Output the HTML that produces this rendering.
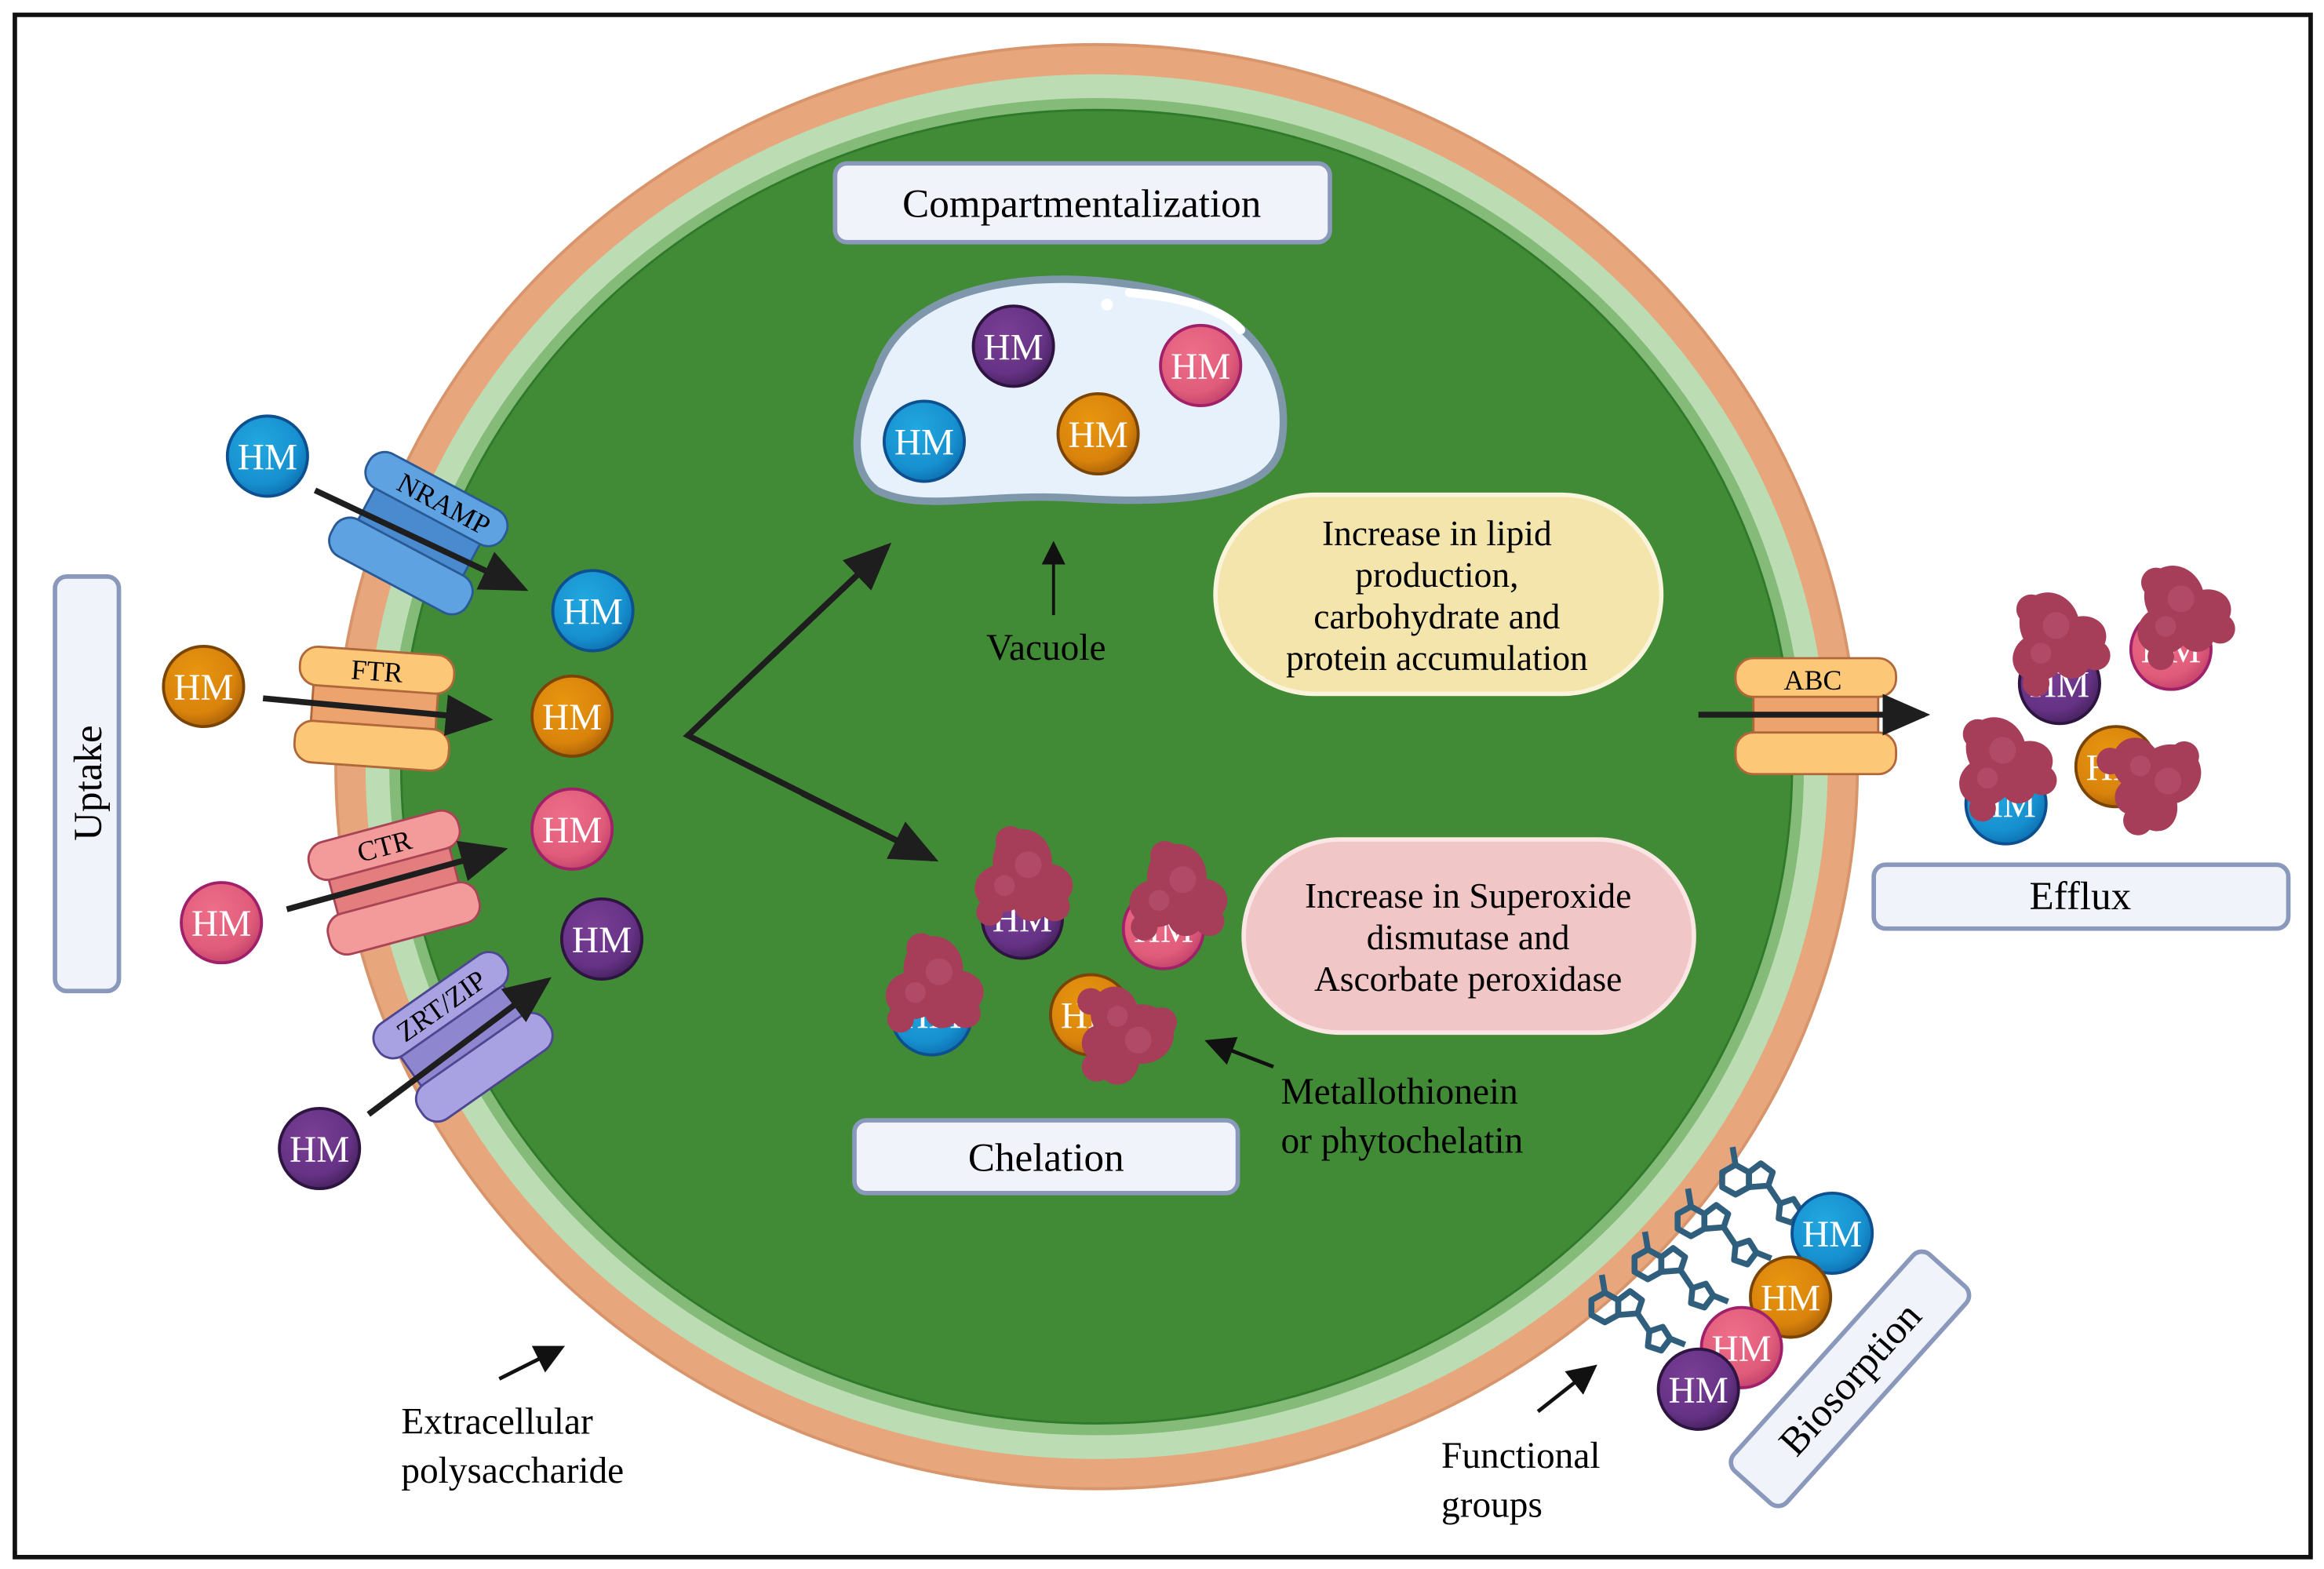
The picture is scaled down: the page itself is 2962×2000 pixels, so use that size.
<!DOCTYPE html>
<html><head><meta charset="utf-8"><style>
html,body{margin:0;padding:0;background:#fff;}
svg{display:block;}
text{font-family:"Liberation Serif",serif;}
</style></head><body>
<svg width="2962" height="2000" viewBox="0 0 1564 1056" preserveAspectRatio="none" xmlns="http://www.w3.org/2000/svg">
<defs>
<radialGradient id="gb" cx="0.4" cy="0.35" r="0.7"><stop offset="0" stop-color="#22a8e0"/><stop offset="0.7" stop-color="#1790cf"/><stop offset="1" stop-color="#0c6eb0"/></radialGradient>
<radialGradient id="go" cx="0.4" cy="0.35" r="0.7"><stop offset="0" stop-color="#e8960f"/><stop offset="0.7" stop-color="#d9830c"/><stop offset="1" stop-color="#a85f08"/></radialGradient>
<radialGradient id="gp" cx="0.4" cy="0.35" r="0.7"><stop offset="0" stop-color="#ee6f8a"/><stop offset="0.7" stop-color="#e05c7a"/><stop offset="1" stop-color="#c0406a"/></radialGradient>
<radialGradient id="gv" cx="0.4" cy="0.35" r="0.7"><stop offset="0" stop-color="#7a3f95"/><stop offset="0.7" stop-color="#653285"/><stop offset="1" stop-color="#43205a"/></radialGradient>
<g id="hmb"><circle r="27" fill="url(#gb)" stroke="#0d4f8f" stroke-width="2"/><text y="9" text-anchor="middle" font-size="25" fill="#fff">HM</text></g>
<g id="hmo"><circle r="27" fill="url(#go)" stroke="#7a4405" stroke-width="2"/><text y="9" text-anchor="middle" font-size="25" fill="#fff">HM</text></g>
<g id="hmp"><circle r="27" fill="url(#gp)" stroke="#a0206a" stroke-width="2"/><text y="9" text-anchor="middle" font-size="25" fill="#fff">HM</text></g>
<g id="hmv"><circle r="27" fill="url(#gv)" stroke="#2e1440" stroke-width="2"/><text y="9" text-anchor="middle" font-size="25" fill="#fff">HM</text></g>
<g id="blob" fill="#a63e5a">
<ellipse cx="0" cy="-8" rx="20" ry="22"/><ellipse cx="-14" cy="10" rx="18" ry="16"/><ellipse cx="16" cy="8" rx="18" ry="15"/><circle cx="22" cy="22" r="10"/><circle cx="-22" cy="26" r="9"/><circle cx="6" cy="20" r="12"/><circle cx="-8" cy="-22" r="10"/>
<circle cx="4" cy="-6" r="9" fill="#b04a66"/><circle cx="-12" cy="8" r="7" fill="#b04a66"/>
</g>
<g id="fg" fill="none" stroke="#2f5f7d" stroke-width="4" stroke-linejoin="round">
<polygon points="0,-10 9,-5 9,5 0,10 -9,5 -9,-5"/>
<polygon points="9,-5 17,-11 25,-5 22,4 9,5"/>
<line x1="0" y1="-10" x2="-2" y2="-22"/>
<line x1="22" y1="4" x2="30" y2="16"/>
<polygon points="30,16 39,13 44,21 38,29 29,26"/>
<line x1="44" y1="21" x2="54" y2="25"/>
</g>
<marker id="ah" markerWidth="10" markerHeight="10" refX="7" refY="5" orient="auto" markerUnits="strokeWidth"><path d="M0,1.5 L8,5 L0,8.5 Z" fill="#1e1e1e"/></marker>
<marker id="ah2" markerWidth="10" markerHeight="10" refX="7" refY="5" orient="auto" markerUnits="strokeWidth"><path d="M0,1 L8,5 L0,9 Z" fill="#111"/></marker>
</defs>
<rect width="1564" height="1056" fill="#fff"/>
<rect x="10" y="10" width="1545" height="1038" fill="none" stroke="#111" stroke-width="3"/>

<ellipse cx="738" cy="516" rx="512" ry="486" fill="#e8a67c" stroke="#d8946a" stroke-width="2"/>
<ellipse cx="738" cy="516" rx="492" ry="466" fill="#bcdcb4"/>
<ellipse cx="738" cy="516" rx="476" ry="450" fill="#84bb78"/>
<ellipse cx="738" cy="516" rx="468" ry="442" fill="#428b36" stroke="#2f7a2a" stroke-width="1.5"/>

<rect x="562" y="110" width="333" height="53" rx="8" fill="#f0f3fa" stroke="#8a98bb" stroke-width="3"/>
<text x="728" y="146" text-anchor="middle" font-size="27">Compartmentalization</text>
<rect x="575" y="754" width="258" height="49" rx="8" fill="#f0f3fa" stroke="#8a98bb" stroke-width="3"/>
<text x="704" y="788" text-anchor="middle" font-size="27">Chelation</text>
<rect x="1261" y="582" width="279" height="43" rx="8" fill="#f0f3fa" stroke="#8a98bb" stroke-width="3"/>
<text x="1400" y="612" text-anchor="middle" font-size="27">Efflux</text>
<rect x="37" y="388" width="43" height="279" rx="8" fill="#f0f3fa" stroke="#8a98bb" stroke-width="3"/>
<text transform="translate(68,527) rotate(-90)" text-anchor="middle" font-size="27">Uptake</text>
<g transform="translate(1245,928) rotate(-48)">
<rect x="-98" y="-24" width="196" height="48" rx="8" fill="#f0f3fa" stroke="#8a98bb" stroke-width="3"/>
<text x="0" y="9" text-anchor="middle" font-size="27">Biosorption</text>
</g>

<path d="M590,250 C610,190 700,178 780,195 C850,210 870,260 862,300 C855,335 790,340 720,335 C660,332 620,345 590,330 C570,315 575,280 590,250 Z" fill="#e7f1fb" stroke="#7f97ab" stroke-width="5"/>
<path d="M760,197 C800,200 825,210 835,222" fill="none" stroke="#fff" stroke-width="6" stroke-linecap="round"/>
<circle cx="745" cy="205" r="4" fill="#fff"/>
<use href="#hmv" x="682" y="233"/>
<use href="#hmp" x="808" y="246"/>
<use href="#hmb" x="622" y="297"/>
<use href="#hmo" x="739" y="292"/>
<line x1="709" y1="414" x2="709" y2="366" stroke="#111" stroke-width="2" marker-end="url(#ah2)"/>
<text x="704" y="444" text-anchor="middle" font-size="25">Vacuole</text>

<rect x="818" y="333" width="300" height="134" rx="67" fill="#f3e5ab" stroke="#faf4dc" stroke-width="3"/>
<text text-anchor="middle" font-size="24"><tspan x="967" y="367">Increase in lipid</tspan><tspan x="967" y="395">production,</tspan><tspan x="967" y="423">carbohydrate and</tspan><tspan x="967" y="451">protein accumulation</tspan></text>
<rect x="837" y="565" width="303" height="130" rx="65" fill="#f1c6c6" stroke="#fbe6e6" stroke-width="3"/>
<text text-anchor="middle" font-size="24"><tspan x="988" y="611">Increase in Superoxide</tspan><tspan x="988" y="639">dismutase and</tspan><tspan x="988" y="667">Ascorbate peroxidase</tspan></text>

<polyline points="597,368 463,495 628,578" fill="none" stroke="#1e1e1e" stroke-width="4"/>
<line x1="520" y1="441" x2="597" y2="368" stroke="#1e1e1e" stroke-width="4" marker-end="url(#ah)"/>
<line x1="540" y1="534" x2="628" y2="578" stroke="#1e1e1e" stroke-width="4" marker-end="url(#ah)"/>

<g transform="translate(282,358) rotate(28)">
<rect x="-40" y="-14" width="80" height="28" fill="#4a8bd0" stroke="#2a5a95" stroke-width="1.5"/>
<rect x="-52" y="-38" width="104" height="26" rx="12" fill="#5fa2e2" stroke="#2a5a95" stroke-width="1.5"/>
<rect x="-52" y="12" width="104" height="28" rx="12" fill="#5fa2e2" stroke="#2a5a95" stroke-width="1.5"/>
<text x="6" y="-18" text-anchor="middle" font-size="19">NRAMP</text>
</g>
<g transform="translate(252,476) rotate(4)">
<rect x="-42" y="-14" width="84" height="28" fill="#eda36e" stroke="#b0683a" stroke-width="1.5"/>
<rect x="-52" y="-38" width="104" height="26" rx="12" fill="#fcc878" stroke="#b0683a" stroke-width="1.5"/>
<rect x="-52" y="12" width="104" height="28" rx="12" fill="#fcc878" stroke="#b0683a" stroke-width="1.5"/>
<text x="0" y="-18" text-anchor="middle" font-size="19">FTR</text>
</g>
<g transform="translate(265,593) rotate(-15)">
<rect x="-42" y="-14" width="84" height="28" fill="#e47d7e" stroke="#a84455" stroke-width="1.5"/>
<rect x="-52" y="-38" width="104" height="26" rx="12" fill="#f39a9a" stroke="#a84455" stroke-width="1.5"/>
<rect x="-52" y="12" width="104" height="28" rx="12" fill="#f39a9a" stroke="#a84455" stroke-width="1.5"/>
<text x="0" y="-18" text-anchor="middle" font-size="19">CTR</text>
</g>
<g transform="translate(311,697) rotate(-35)">
<rect x="-42" y="-14" width="84" height="28" fill="#8e86cf" stroke="#4d4690" stroke-width="1.5"/>
<rect x="-52" y="-38" width="104" height="26" rx="12" fill="#a9a2e2" stroke="#4d4690" stroke-width="1.5"/>
<rect x="-52" y="12" width="104" height="28" rx="12" fill="#a9a2e2" stroke="#4d4690" stroke-width="1.5"/>
<text x="0" y="-18" text-anchor="middle" font-size="19">ZRT/ZIP</text>
</g>
<g transform="translate(1222,481)">
<rect x="-42" y="-14" width="84" height="28" fill="#eda36e" stroke="#b0683a" stroke-width="1.5"/>
<rect x="-54" y="-38" width="108" height="26" rx="12" fill="#fcc878" stroke="#b0683a" stroke-width="1.5"/>
<rect x="-54" y="12" width="108" height="28" rx="12" fill="#fcc878" stroke="#b0683a" stroke-width="1.5"/>
<text x="-2" y="-17" text-anchor="middle" font-size="19">ABC</text>
</g>

<use href="#hmb" x="180" y="307"/>
<use href="#hmb" x="399" y="411"/>
<use href="#hmo" x="137" y="462"/>
<use href="#hmo" x="385" y="482"/>
<use href="#hmp" x="385" y="558"/>
<use href="#hmp" x="149" y="621"/>
<use href="#hmv" x="405" y="632"/>
<use href="#hmv" x="215" y="773"/>
<line x1="212" y1="330" x2="352" y2="396" stroke="#1e1e1e" stroke-width="4" marker-end="url(#ah)"/>
<line x1="177" y1="470" x2="328" y2="484" stroke="#1e1e1e" stroke-width="4" marker-end="url(#ah)"/>
<line x1="193" y1="612" x2="338" y2="572" stroke="#1e1e1e" stroke-width="4" marker-end="url(#ah)"/>
<line x1="248" y1="750" x2="368" y2="660" stroke="#1e1e1e" stroke-width="4" marker-end="url(#ah)"/>
<line x1="1143" y1="481" x2="1295" y2="481" stroke="#1e1e1e" stroke-width="4" marker-end="url(#ah)"/>

<use href="#hmv" x="688" y="618"/><use href="#blob" x="688" y="588"/>
<use href="#hmp" x="783" y="625"/><use href="#blob" x="792" y="598"/>
<use href="#hmb" x="627" y="683"/><use href="#blob" x="628" y="660"/>
<use href="#hmo" x="734" y="683"/><use href="#blob" transform="translate(760,696) rotate(90)"/>
<line x1="857" y1="718" x2="813" y2="701" stroke="#111" stroke-width="2.5" marker-end="url(#ah2)"/>
<text font-size="25"><tspan x="862" y="743">Metallothionein</tspan><tspan x="862" y="776">or phytochelatin</tspan></text>

<use href="#hmv" x="1386" y="460"/><use href="#blob" transform="translate(1382,428) rotate(-20)"/>
<use href="#hmp" x="1461" y="437"/><use href="#blob" transform="translate(1466,410) rotate(-20)"/>
<use href="#hmb" x="1350" y="541"/><use href="#blob" transform="translate(1346,512) rotate(-20)"/>
<use href="#hmo" x="1424" y="516"/><use href="#blob" transform="translate(1452,524) rotate(70)"/>

<use href="#fg" x="1168" y="794"/>
<use href="#fg" x="1138" y="822"/>
<use href="#fg" x="1109" y="851"/>
<use href="#fg" x="1080" y="880"/>
<use href="#hmb" x="1233" y="830"/>
<use href="#hmo" x="1205" y="873"/>
<use href="#hmp" x="1172" y="907"/>
<use href="#hmv" x="1143" y="935"/>

<line x1="336" y1="928" x2="378" y2="907" stroke="#111" stroke-width="2.5" marker-end="url(#ah2)"/>
<text font-size="25"><tspan x="270" y="965">Extracellular</tspan><tspan x="270" y="998">polysaccharide</tspan></text>
<line x1="1035" y1="950" x2="1073" y2="920" stroke="#111" stroke-width="2.5" marker-end="url(#ah2)"/>
<text font-size="25"><tspan x="970" y="988">Functional</tspan><tspan x="970" y="1021">groups</tspan></text>
</svg>
</body></html>
